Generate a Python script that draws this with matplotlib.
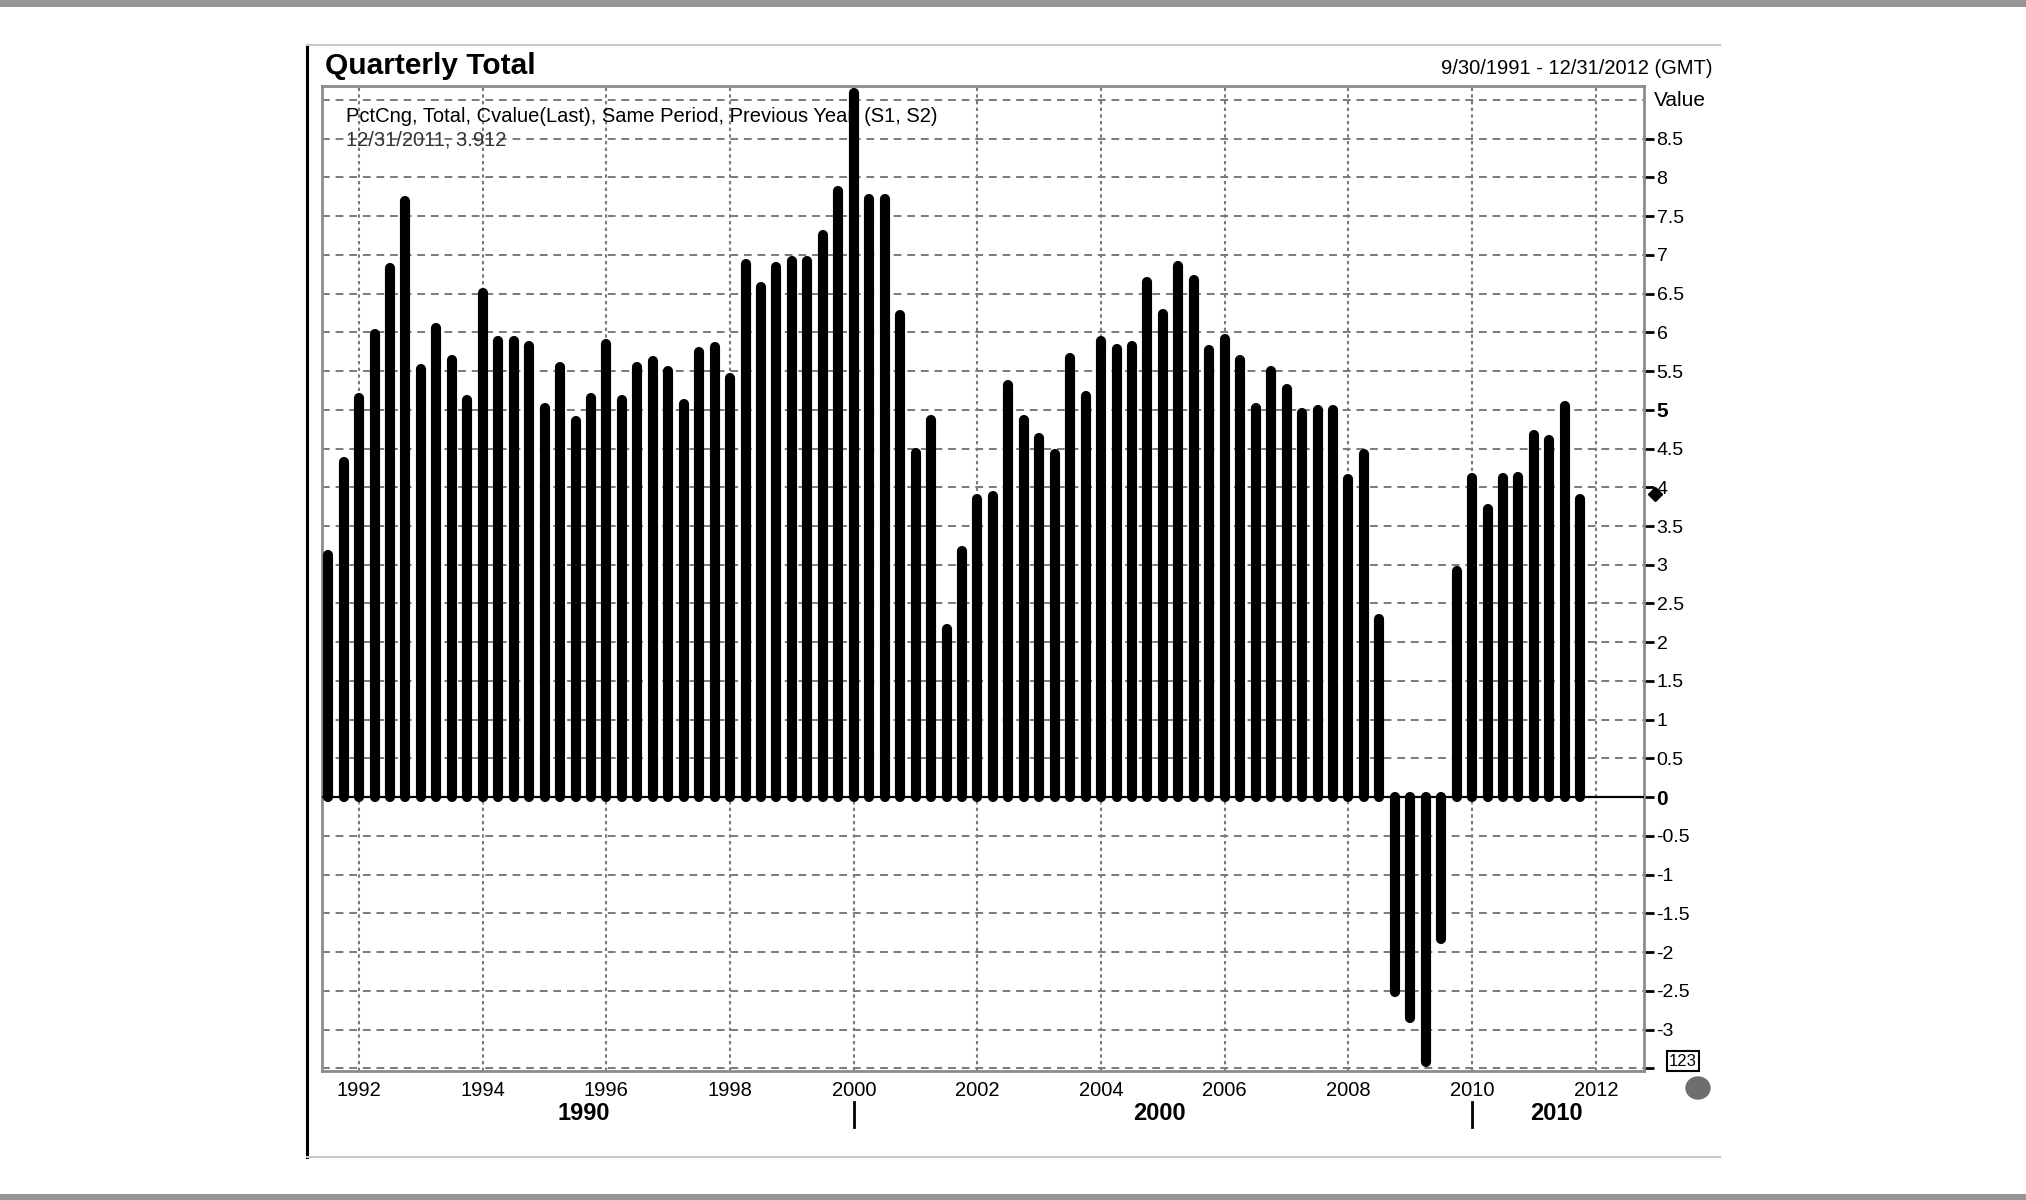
import matplotlib
matplotlib.use("Agg")
import matplotlib.pyplot as plt
from matplotlib.lines import Line2D
from matplotlib.patches import Ellipse, Rectangle
import numpy as np
import pandas as pd

plt.rcParams['font.family'] = ['Liberation Sans', 'DejaVu Sans']
plt.rcParams['axes.unicode_minus'] = False

# Data: year-on-year % change of the quarterly total, 1991Q3 .. 2011Q4
quarters = pd.period_range("1991Q3", "2011Q4", freq="Q")
pct_change = [
    3.19, 4.39,
    5.22, 6.05, 6.90, 7.76,
    5.59, 6.12, 5.71, 5.19,
    6.57, 5.95, 5.95, 5.89,
    5.09, 5.62, 4.92, 5.22,
    5.92, 5.19, 5.62, 5.69,
    5.56, 5.14, 5.81, 5.87,
    5.47, 6.95, 6.65, 6.91,
    6.99, 6.99, 7.32, 7.89,
    9.16, 7.79, 7.79, 6.29,
    4.51, 4.94, 2.23, 3.24,
    3.91, 3.95, 5.38, 4.94,
    4.70, 4.49, 5.73, 5.24,
    5.95, 5.85, 5.89, 6.72,
    6.30, 6.92, 6.74, 5.84,
    5.98, 5.71, 5.09, 5.56,
    5.33, 5.03, 5.06, 5.06,
    4.17, 4.49, 2.37, -2.58,
    -2.91, -3.48, -1.90, 2.99,
    4.19, 3.79, 4.19, 4.20,
    4.74, 4.68, 5.12, 3.912,
]
year_ticks = list(range(1992, 2013, 2))
value_ticks = [-3.5, -3, -2.5, -2, -1.5, -1, -0.5, 0, 0.5, 1, 1.5, 2, 2.5,
               3, 3.5, 4, 4.5, 5, 5.5, 6, 6.5, 7, 7.5, 8, 8.5]
decades = ["1990", "2000", "2010"]
decade_label_pos = [1995.64, 2004.95, 2011.37]
decade_breaks = [2000, 2010]
series_label = "PctCng, Total, Cvalue(Last), Same Period, Previous Year, (S1, S2)"
last_label = "12/31/2011, 3.912"

W, H = 2026, 1200


def fx(x):
    return x / W


def fy(y):
    return 1 - y / H


fig = plt.figure(figsize=(W / 100, H / 100), dpi=100)
fig.patch.set_facecolor("white")

# page borders and panel lines
fig.add_artist(Rectangle((0, fy(7)), 1, 7 / H, transform=fig.transFigure,
                         color="#969696", lw=0))
fig.add_artist(Rectangle((0, 0), 1, 6 / H, transform=fig.transFigure,
                         color="#969696", lw=0))
fig.add_artist(Line2D([fx(307), fx(307)], [fy(45), fy(1157)], color="black", lw=2.2))
fig.add_artist(Line2D([fx(307), fx(1720)], [fy(45), fy(45)], color="#c8c8c8", lw=1.5))
fig.add_artist(Line2D([fx(307), fx(1720)], [fy(1157), fy(1157)], color="#c8c8c8", lw=1.5))

ax = fig.add_axes([fx(322), fy(1071), (1644 - 322) / W, (1071 - 86) / H])
ax.set_xlim(1991.40, 2012.78)
ax.set_ylim(-3.535, 9.18)

x = np.array([q.year + (q.quarter - 1) / 4 for q in quarters])
y = np.array(pct_change)

# grid
for v in np.arange(-3.5, 9.01, 0.5):
    ax.axhline(v, color="#7a7a7a", lw=1.4, dashes=(4, 3), zorder=0.5)
for yr in year_ticks:
    ax.axvline(yr, color="#7a7a7a", lw=1.5, dashes=(1.6, 1.6), zorder=0.5)

# bars as thick rounded stems
lw = 7.3
cap = (lw * 100 / 72 / 2) / 77.5
tops = y - np.sign(y) * cap
stems = ax.vlines(x, 0, tops, color="black", lw=lw, zorder=3)
stems.set_capstyle("round")
ax.axhline(0, color="black", lw=1.6, zorder=4)

# series description (drawn beneath the bars)
ax.text(fx(346), fy(116), series_label, transform=fig.transFigure,
        fontsize=14.5, va="center", ha="left", zorder=1)
ax.text(fx(346), fy(140), last_label, transform=fig.transFigure,
        fontsize=14.5, va="center", ha="left", zorder=1, color="#333333")

# frame
for s in ax.spines.values():
    s.set_color("#8c8c8c")
    s.set_linewidth(2)

# axes ticks
ax.set_xticks(year_ticks)
ax.set_xticklabels([str(t) for t in year_ticks], fontsize=14.5)
ax.tick_params(axis="x", length=0, pad=7)

ax.yaxis.tick_right()
ax.set_yticks(value_ticks)
labels = []
for v in value_ticks:
    if v == -3.5:
        labels.append("")
    else:
        labels.append(f"{v:g}")
ax.set_yticklabels(labels, fontsize=14)
ax.tick_params(axis="y", length=7, width=2, color="black", pad=2)
for t in ax.get_yticklabels():
    if t.get_text() in ("5", "0"):
        t.set_fontweight("bold")
        t.set_fontsize(15)

# texts outside plot
fig.text(fx(325), fy(66), "Quarterly Total", fontsize=21.5, fontweight="bold",
         va="center", ha="left")
fig.text(fx(1712), fy(68), "9/30/1991 - 12/31/2012 (GMT)", fontsize=14.5,
         va="center", ha="right")
fig.text(fx(1654), fy(100), "Value", fontsize=15, va="center", ha="left")
fig.text(fx(1683), fy(1061), "123", fontsize=12, va="center", ha="center",
         bbox=dict(boxstyle="square,pad=0.15", fc="white", ec="black", lw=1.5))
fig.add_artist(Ellipse((fx(1698), fy(1088)), 24 / W, 22 / H,
                       transform=fig.transFigure, color="#6e6e6e"))

# current value marker
ax.plot([1.008], [pct_change[-1]], marker="D", color="black", markersize=7,
        clip_on=False, transform=ax.get_yaxis_transform(), zorder=5)

# decade labels
label_y = -(1114 - 1071) / (1071 - 86)
for lab, pos in zip(decades, decade_label_pos):
    ax.text(pos, label_y, lab, transform=ax.get_xaxis_transform(), fontsize=17,
            fontweight="bold", ha="center", va="center")
for b in decade_breaks:
    ax.add_line(Line2D([b, b], [-(1102 - 1071) / 985, -(1127 - 1071) / 985],
                       transform=ax.get_xaxis_transform(), color="black", lw=2,
                       clip_on=False))

fig.savefig("out.png", dpi=100, facecolor="white")
